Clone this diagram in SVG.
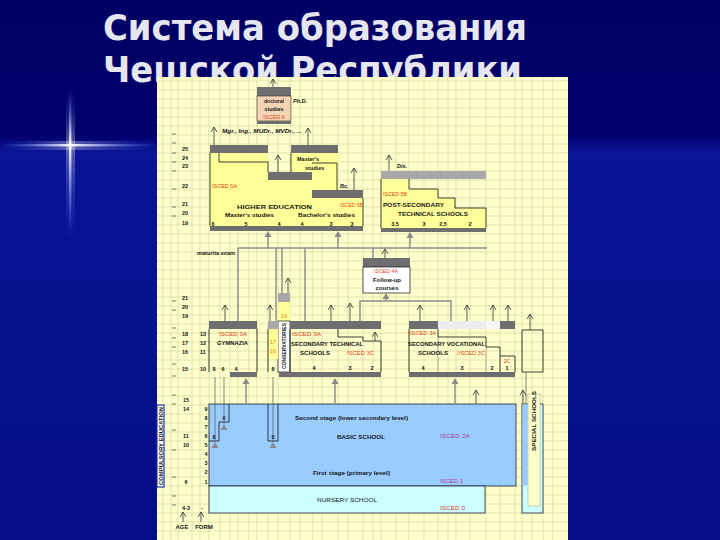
<svg xmlns="http://www.w3.org/2000/svg" width="720" height="540" viewBox="0 0 720 540">
<defs>
<style>
.t{font-family:"Liberation Sans",Arial,sans-serif;font-weight:bold;font-size:5.5px;fill:#151515}
.r{fill:#e0441c;font-weight:normal}
.p{fill:#b03c8c;font-weight:normal}
.it{font-style:italic}
.ttl{font-family:"DejaVu Sans","Liberation Sans",sans-serif;font-weight:bold;font-size:36px;fill:#e6e6f0}
.dk{fill:#6e6e6e}
.lg{fill:#a8a8a8}
.yel{fill:#ffff99}
.ol{fill:none;stroke:#111;stroke-width:0.8}
.ar{stroke:#333;stroke-width:0.8;fill:none;marker-end:url(#chev)}
.gl{stroke:#8a8a8a;stroke-width:1.4;fill:none}
.thin{stroke:#555;stroke-width:0.7;fill:none}
.grid line{stroke:#d6d6a4;stroke-width:0.7}
</style>
<marker id="chev" viewBox="-6 -4 8 8" refX="0" refY="0" markerWidth="8" markerHeight="8" markerUnits="userSpaceOnUse" orient="auto">
<path d="M-5,-3 L0,0 L-5,3" fill="none" stroke="#333" stroke-width="0.8"/>
</marker>
<path id="tri" d="M0,0 L-3.5,6 L3.5,6 Z" fill="#8a8a8a"/>
<linearGradient id="bg" x1="0" y1="0" x2="0" y2="1">
<stop offset="0" stop-color="#000064"/>
<stop offset="0.25" stop-color="#00006a"/>
<stop offset="0.28" stop-color="#0a1494"/>
<stop offset="1" stop-color="#050e86"/>
</linearGradient>
<linearGradient id="sv" x1="0" y1="0" x2="0" y2="1">
<stop offset="0" stop-color="#4060ff" stop-opacity="0"/>
<stop offset="0.38" stop-color="#ffffff"/>
<stop offset="1" stop-color="#4060ff" stop-opacity="0"/>
</linearGradient>
<linearGradient id="sh" x1="0" y1="0" x2="1" y2="0">
<stop offset="0" stop-color="#4060ff" stop-opacity="0"/>
<stop offset="0.44" stop-color="#ffffff"/>
<stop offset="1" stop-color="#4060ff" stop-opacity="0"/>
</linearGradient>
</defs>

<g id="slide">
<rect width="720" height="540" fill="url(#bg)"/>
<rect x="66" y="88" width="9" height="150" fill="url(#sv)" opacity="0.35"/>
<rect x="0" y="141" width="160" height="9" fill="url(#sh)" opacity="0.35"/>
<rect x="69" y="88" width="2.4" height="150" fill="url(#sv)"/>
<rect x="0" y="144" width="160" height="2.4" fill="url(#sh)"/>
<text class="ttl" x="103" y="40" textLength="424" lengthAdjust="spacingAndGlyphs">Система образования</text>
<text class="ttl" x="103" y="82" textLength="419" lengthAdjust="spacingAndGlyphs">Чешской Республики</text>
</g>

<g id="sheet">
<rect x="157" y="77" width="411" height="463" fill="#ffffcc"/>
<g class="grid">
<line x1="157" y1="81" x2="568" y2="81"/><line x1="157" y1="90" x2="568" y2="90"/><line x1="157" y1="99" x2="568" y2="99"/><line x1="157" y1="108" x2="568" y2="108"/><line x1="157" y1="117" x2="568" y2="117"/><line x1="157" y1="126" x2="568" y2="126"/><line x1="157" y1="135" x2="568" y2="135"/><line x1="157" y1="144" x2="568" y2="144"/><line x1="157" y1="153" x2="568" y2="153"/><line x1="157" y1="162" x2="568" y2="162"/><line x1="157" y1="171" x2="568" y2="171"/><line x1="157" y1="180" x2="568" y2="180"/><line x1="157" y1="189" x2="568" y2="189"/><line x1="157" y1="198" x2="568" y2="198"/><line x1="157" y1="207" x2="568" y2="207"/><line x1="157" y1="216" x2="568" y2="216"/><line x1="157" y1="225" x2="568" y2="225"/><line x1="157" y1="234" x2="568" y2="234"/><line x1="157" y1="243" x2="568" y2="243"/><line x1="157" y1="252" x2="568" y2="252"/><line x1="157" y1="261" x2="568" y2="261"/><line x1="157" y1="270" x2="568" y2="270"/><line x1="157" y1="279" x2="568" y2="279"/><line x1="157" y1="288" x2="568" y2="288"/><line x1="157" y1="297" x2="568" y2="297"/><line x1="157" y1="306" x2="568" y2="306"/><line x1="157" y1="315" x2="568" y2="315"/><line x1="157" y1="324" x2="568" y2="324"/><line x1="157" y1="333" x2="568" y2="333"/><line x1="157" y1="342" x2="568" y2="342"/><line x1="157" y1="351" x2="568" y2="351"/><line x1="157" y1="360" x2="568" y2="360"/><line x1="157" y1="369" x2="568" y2="369"/><line x1="157" y1="378" x2="568" y2="378"/><line x1="157" y1="387" x2="568" y2="387"/><line x1="157" y1="396" x2="568" y2="396"/><line x1="157" y1="405" x2="568" y2="405"/><line x1="157" y1="414" x2="568" y2="414"/><line x1="157" y1="423" x2="568" y2="423"/><line x1="157" y1="432" x2="568" y2="432"/><line x1="157" y1="441" x2="568" y2="441"/><line x1="157" y1="450" x2="568" y2="450"/><line x1="157" y1="459" x2="568" y2="459"/><line x1="157" y1="468" x2="568" y2="468"/><line x1="157" y1="477" x2="568" y2="477"/><line x1="157" y1="486" x2="568" y2="486"/><line x1="157" y1="495" x2="568" y2="495"/><line x1="157" y1="504" x2="568" y2="504"/><line x1="157" y1="513" x2="568" y2="513"/><line x1="157" y1="522" x2="568" y2="522"/><line x1="157" y1="531" x2="568" y2="531"/>
<line x1="163" y1="77" x2="163" y2="540"/><line x1="171" y1="77" x2="171" y2="540"/><line x1="178" y1="77" x2="178" y2="540"/><line x1="192" y1="77" x2="192" y2="540"/><line x1="200" y1="77" x2="200" y2="540"/><line x1="209" y1="77" x2="209" y2="540"/><line x1="220" y1="77" x2="220" y2="540"/><line x1="230" y1="77" x2="230" y2="540"/><line x1="238" y1="77" x2="238" y2="540"/><line x1="249" y1="77" x2="249" y2="540"/><line x1="257" y1="77" x2="257" y2="540"/><line x1="268" y1="77" x2="268" y2="540"/><line x1="278" y1="77" x2="278" y2="540"/><line x1="290" y1="77" x2="290" y2="540"/><line x1="300" y1="77" x2="300" y2="540"/><line x1="313" y1="77" x2="313" y2="540"/><line x1="322" y1="77" x2="322" y2="540"/><line x1="338" y1="77" x2="338" y2="540"/><line x1="348" y1="77" x2="348" y2="540"/><line x1="363" y1="77" x2="363" y2="540"/><line x1="373" y1="77" x2="373" y2="540"/><line x1="381" y1="77" x2="381" y2="540"/><line x1="396" y1="77" x2="396" y2="540"/><line x1="409" y1="77" x2="409" y2="540"/><line x1="424" y1="77" x2="424" y2="540"/><line x1="438" y1="77" x2="438" y2="540"/><line x1="448" y1="77" x2="448" y2="540"/><line x1="456" y1="77" x2="456" y2="540"/><line x1="470" y1="77" x2="470" y2="540"/><line x1="486" y1="77" x2="486" y2="540"/><line x1="500" y1="77" x2="500" y2="540"/><line x1="515" y1="77" x2="515" y2="540"/><line x1="522" y1="77" x2="522" y2="540"/><line x1="532" y1="77" x2="532" y2="540"/><line x1="543" y1="77" x2="543" y2="540"/><line x1="553" y1="77" x2="553" y2="540"/>
</g>
</g>

<g id="axis">
<g stroke="#555" stroke-width="0.8">
<line x1="172" y1="134" x2="176" y2="134"/><line x1="172" y1="143" x2="176" y2="143"/><line x1="172" y1="153" x2="176" y2="153"/><line x1="172" y1="162" x2="176" y2="162"/><line x1="172" y1="171" x2="176" y2="171"/><line x1="172" y1="189" x2="176" y2="189"/><line x1="172" y1="207" x2="176" y2="207"/><line x1="172" y1="216" x2="176" y2="216"/>
<line x1="172" y1="301" x2="176" y2="301"/><line x1="172" y1="310" x2="176" y2="310"/><line x1="172" y1="328" x2="176" y2="328"/><line x1="172" y1="338" x2="176" y2="338"/><line x1="172" y1="347" x2="176" y2="347"/><line x1="172" y1="364" x2="176" y2="364"/><line x1="172" y1="376" x2="176" y2="376"/>
<line x1="172" y1="395" x2="176" y2="395"/><line x1="172" y1="404" x2="176" y2="404"/><line x1="172" y1="430" x2="176" y2="430"/><line x1="172" y1="450" x2="176" y2="450"/><line x1="172" y1="477" x2="176" y2="477"/><line x1="172" y1="496" x2="176" y2="496"/><line x1="172" y1="505" x2="176" y2="505"/>
</g>
<g class="t" text-anchor="middle">
<text x="185" y="151">25</text><text x="185" y="160">24</text><text x="185" y="168">23</text><text x="185" y="188">22</text><text x="185" y="206">21</text><text x="185" y="215">20</text><text x="185" y="225">19</text>
<text x="185" y="300">21</text><text x="185" y="309">20</text><text x="185" y="318">19</text><text x="185" y="336">18</text><text x="185" y="345">17</text><text x="185" y="354">16</text><text x="185" y="371">15</text>
<text x="186" y="402">15</text><text x="186" y="411">14</text><text x="186" y="438">11</text><text x="186" y="447">10</text><text x="186" y="484">6</text><text x="186" y="510">4-3</text>
<text x="206" y="411">9</text><text x="206" y="420">8</text><text x="206" y="429">7</text><text x="206" y="438">6</text><text x="206" y="447">5</text><text x="206" y="456">4</text><text x="206" y="465">3</text><text x="206" y="474">2</text><text x="206" y="484">1</text><text x="202" y="510">-</text>
<text x="182" y="529" font-size="6">AGE</text><text x="204" y="529" font-size="6">FORM</text>
</g>
</g>

<g id="doctoral">
<rect class="dk" x="257" y="87" width="34" height="9"/>
<rect x="257" y="96" width="34" height="25" fill="#f4d4b4" stroke="#333" stroke-width="0.6"/>
<rect class="dk" x="257" y="121" width="34" height="3"/>
<g class="t" text-anchor="middle"><text x="274" y="103" textLength="20" lengthAdjust="spacingAndGlyphs">doctoral</text><text x="274" y="111">studies</text><text class="r" x="274" y="119">ISCED 6</text></g>
<text class="t it" x="293" y="103" font-size="6">Ph.D.</text>
<text class="t it" x="222" y="133" font-size="6" textLength="80" lengthAdjust="spacingAndGlyphs">Mgr., Ing., MUDr., MVDr., ...</text>
</g>

<g id="higher-education">
<polygon class="yel" points="210,153 268,153 268,180 312,180 312,198 363,198 363,226 210,226"/>
<polygon class="yel" points="291,153 338,153 338,190 312,190 312,172 291,172"/>
<rect class="dk" x="210" y="145" width="58" height="8"/>
<rect class="dk" x="291" y="145" width="47" height="8"/>
<rect class="dk" x="268" y="172" width="44" height="8"/>
<rect class="dk" x="312" y="190" width="51" height="8"/>
<rect class="dk" x="210" y="226" width="153" height="5"/>
<polyline class="ol" points="219,153 219,162 268,162 268,172"/>
<polyline class="ol" points="291,153 291,172"/>
<polyline class="ol" points="312,163 337,163 337,190"/>
<polyline class="ol" points="210,153 210,226"/>
<polyline class="ol" points="363,198 363,226"/>
<text class="t r" x="212" y="188" font-size="5">ISCED 5A</text>
<text class="t" x="237" y="209" font-size="8" textLength="75" lengthAdjust="spacingAndGlyphs">HIGHER EDUCATION</text>
<text class="t r" x="340" y="207" font-size="5" textLength="23" lengthAdjust="spacingAndGlyphs">ISCED 5B</text>
<text class="t" x="225" y="217" textLength="49" lengthAdjust="spacingAndGlyphs">Master's studies</text>
<text class="t" x="298" y="217" textLength="57" lengthAdjust="spacingAndGlyphs">Bachelor's studies</text>
<g class="t" text-anchor="middle"><text x="213" y="225.5">6</text><text x="246" y="225.5">5</text><text x="279" y="225.5">4</text><text x="302" y="225.5">4</text><text x="331" y="225.5">3</text><text x="352" y="225.5">3</text></g>
<text class="t" x="297" y="161" font-size="5">Master's</text>
<text class="t" x="305" y="170" font-size="5">studies</text>
<text class="t it" x="340" y="188" font-size="6">Bc.</text>
</g>

<g id="post-secondary">
<rect class="lg" x="381" y="171" width="105" height="8"/>
<polygon class="yel" points="381,179 409,179 409,189 438,189 438,198 455,198 455,208 486,208 486,228 381,228"/>
<polyline class="ol" points="381,179 381,228"/>
<polyline class="ol" points="409,179 409,189 438,189 438,198 455,198 455,208 486,208 486,228"/>
<rect class="dk" x="381" y="228" width="105" height="4"/>
<text class="t r" x="383" y="196" font-size="5" textLength="24" lengthAdjust="spacingAndGlyphs">ISCED 5B</text>
<text class="t" x="383" y="207" font-size="7" textLength="61" lengthAdjust="spacingAndGlyphs">POST-SECONDARY</text>
<text class="t" x="398" y="216" font-size="7" textLength="70" lengthAdjust="spacingAndGlyphs">TECHNICAL SCHOOLS</text>
<g class="t" text-anchor="middle"><text x="395" y="226">3,5</text><text x="424" y="226">3</text><text x="443" y="226">2,5</text><text x="470" y="226">2</text></g>
<text class="t it" x="397" y="168" font-size="6">Dis.</text>
</g>

<g id="follow-up">
<rect class="dk" x="363" y="258" width="47" height="9"/>
<rect x="363" y="267" width="47" height="26" fill="#ffffff" stroke="#111" stroke-width="0.7"/>
<g class="t" text-anchor="middle"><text class="r" x="386" y="273" textLength="24" lengthAdjust="spacingAndGlyphs">ISCED 4A</text><text x="387" y="282" font-size="6" textLength="28" lengthAdjust="spacingAndGlyphs">Follow-up</text><text x="387" y="290" font-size="6">courses</text></g>
</g>

<g id="gymnasium">
<rect class="dk" x="209" y="321" width="48" height="8"/>
<polyline class="ol" points="209,329 209,372"/>
<polyline class="ol" points="257,329 257,372"/>
<rect class="dk" x="230" y="372" width="27" height="5"/>
<text class="t r" x="219" y="336" textLength="28" lengthAdjust="spacingAndGlyphs">ISCED 3A</text>
<text class="t" x="217" y="345" font-size="6" textLength="31" lengthAdjust="spacingAndGlyphs">GYMNAZIA</text>
<g class="t" text-anchor="middle"><text x="203" y="336">13</text><text x="203" y="345">12</text><text x="203" y="354">11</text><text x="203" y="371">10</text><text x="214" y="371">8</text><text x="223" y="371">6</text><text x="236" y="371">4</text></g>
</g>

<g id="conservatories">
<rect class="lg" x="278" y="293" width="12" height="9"/>
<rect class="yel" x="278" y="302" width="12" height="19"/>
<rect x="278" y="321" width="12" height="51" fill="#ffffff" stroke="#111" stroke-width="0.7"/>
<text class="t" x="284" y="318" text-anchor="middle" font-size="5" fill="#e0801c" style="fill:#e0801c;font-weight:normal">19</text>
<text class="t" transform="translate(286,346) rotate(-90)" text-anchor="middle" font-size="5" textLength="46" lengthAdjust="spacingAndGlyphs">CONSERVATORIES</text>
<rect class="lg" x="268" y="321" width="10" height="8"/>
<rect class="yel" x="268" y="329" width="10" height="30"/>
<polyline class="ol" points="268,329 268,372"/>
<g class="t" text-anchor="middle" font-size="5"><text x="273" y="344" style="fill:#e0801c;font-weight:normal">17</text><text x="273" y="353" style="fill:#e0801c;font-weight:normal">16</text><text x="273" y="371">8</text></g>
</g>

<g id="secondary-technical">
<rect class="dk" x="290" y="321" width="91" height="8"/>
<polyline class="ol" points="290,329 290,372"/>
<polyline class="ol" points="338,329 338,337 363,337 363,341 381,341 381,372"/>
<rect class="dk" x="279" y="372" width="102" height="5"/>
<text class="t r" x="292" y="336" textLength="29" lengthAdjust="spacingAndGlyphs">ISCED 3A</text>
<text class="t" x="291" y="346" font-size="6.5" textLength="72" lengthAdjust="spacingAndGlyphs">SECONDARY TECHNICAL</text>
<text class="t" x="300" y="355" font-size="6.5" textLength="30" lengthAdjust="spacingAndGlyphs">SCHOOLS</text>
<text class="t r" x="347" y="355" textLength="27" lengthAdjust="spacingAndGlyphs">ISCED 3C</text>
<g class="t" text-anchor="middle"><text x="314" y="370">4</text><text x="350" y="370">3</text><text x="372" y="370">2</text></g>
</g>

<g id="secondary-vocational">
<rect class="dk" x="409" y="321" width="29" height="8"/>
<rect x="438" y="321" width="48" height="8" fill="#ececec"/>
<rect x="486" y="321" width="14" height="8" fill="#f6f6f6"/>
<rect class="dk" x="500" y="321" width="15" height="8"/>
<polyline class="ol" points="409,329 409,372"/>
<polyline class="ol" points="438,329 438,337 486,337 486,347 500,347 500,356 515,356 515,372"/>
<polyline class="ol" points="500,356 500,372"/>
<line x1="438" y1="337" x2="438" y2="372" stroke="#777" stroke-width="0.5"/>
<line x1="486" y1="347" x2="486" y2="372" stroke="#777" stroke-width="0.5"/>
<rect class="dk" x="409" y="372" width="106" height="5"/>
<text class="t r" x="410" y="335" textLength="26" lengthAdjust="spacingAndGlyphs">ISCED 3A</text>
<text class="t" x="408" y="346" font-size="6.5" textLength="77" lengthAdjust="spacingAndGlyphs">SECONDARY VOCATIONAL</text>
<text class="t" x="418" y="355" font-size="6.5" textLength="30" lengthAdjust="spacingAndGlyphs">SCHOOLS</text>
<text class="t r" x="457" y="355" textLength="28" lengthAdjust="spacingAndGlyphs">(ISCED 3C</text>
<g class="t" text-anchor="middle"><text x="423" y="370">4</text><text x="462" y="370">3</text><text x="492" y="370">2</text><text x="507" y="370">1</text><text class="r" x="507" y="363" font-size="5">2C</text></g>
</g>

<g id="special-secondary">
<polyline class="ol" points="522,330 543,330 543,372 522,372 522,330"/>
</g>

<g id="basic-school">
<rect x="209" y="404" width="307" height="82" fill="#99ccff" stroke="#223" stroke-width="0.8"/>
<polyline class="ol" points="229,404 229,422 219,422 219,441 209,441"/>
<polyline class="ol" points="268,404 268,441 278,441 278,404"/>
<g class="t" text-anchor="middle" font-size="5"><text x="224" y="420">6</text><text x="214" y="439">8</text><text x="273" y="439">8</text></g>
<text class="t" x="295" y="420" textLength="113" lengthAdjust="spacingAndGlyphs">Second stage (lower secondary level)</text>
<text class="t" x="337" y="439" font-size="6" textLength="48" lengthAdjust="spacingAndGlyphs">BASIC SCHOOL</text>
<text class="t p" x="440" y="438" textLength="30" lengthAdjust="spacingAndGlyphs">ISCED 2A</text>
<text class="t" x="313" y="475" textLength="77" lengthAdjust="spacingAndGlyphs">First stage (primary level)</text>
<text class="t p" x="440" y="483" textLength="23" lengthAdjust="spacingAndGlyphs">ISCED 1</text>
</g>

<g id="nursery-school">
<rect x="209" y="486" width="276" height="27" fill="#ccffff" stroke="#223" stroke-width="0.8"/>
<text class="t" x="317" y="502" font-size="6" font-weight="normal" style="font-weight:normal" textLength="60" lengthAdjust="spacingAndGlyphs">NURSERY SCHOOL</text>
<text class="t r" x="440" y="510" textLength="25" lengthAdjust="spacingAndGlyphs">ISCED 0</text>
</g>

<g id="special-schools">
<rect x="522" y="404" width="21" height="109" fill="#ccffff" stroke="#223" stroke-width="0.8"/>
<rect x="522.5" y="404.5" width="5" height="81" fill="#99ccff"/>
<rect x="528" y="394" width="12" height="112" fill="#ffffcc" stroke="#999" stroke-width="0.5"/>
<text class="t" transform="translate(536,421) rotate(-90)" text-anchor="middle" font-size="5.5" textLength="60" lengthAdjust="spacingAndGlyphs">SPECIAL SCHOOLS</text>
</g>

<g id="compulsory-education">
<rect x="157" y="405" width="7" height="82" fill="#ffffff" stroke="#1a3aa0" stroke-width="1.2"/>
<text class="t" transform="translate(162.5,446) rotate(-90)" text-anchor="middle" font-size="5" textLength="78" lengthAdjust="spacingAndGlyphs">COMPULSORY EDUCATION</text>
</g>

<g id="connectors">
<line class="ar" x1="273" y1="87" x2="273" y2="79"/>
<line class="ar" x1="214" y1="145" x2="214" y2="127"/>
<line class="ar" x1="308" y1="145" x2="308" y2="128"/>
<line class="ar" x1="278" y1="172" x2="278" y2="155"/>
<line class="ar" x1="354" y1="190" x2="354" y2="168"/>
<line class="ar" x1="389" y1="171" x2="389" y2="155"/>
<text class="t" x="197" y="255" font-size="5" textLength="38" lengthAdjust="spacingAndGlyphs">maturita exam</text>
<polyline class="gl" points="238,248 487,248"/>
<line class="gl" x1="268" y1="248" x2="268" y2="237"/><use href="#tri" x="268" y="231"/>
<line class="gl" x1="338" y1="248" x2="338" y2="237"/><use href="#tri" x="338" y="231"/>
<line class="gl" x1="410" y1="248" x2="410" y2="238"/><use href="#tri" x="410" y="232"/>
<line class="gl" x1="238" y1="248" x2="238" y2="321"/>
<line class="gl" x1="276" y1="248" x2="276" y2="321"/>
<line class="gl" x1="282" y1="248" x2="282" y2="293"/>
<line class="gl" x1="305" y1="248" x2="305" y2="321"/>
<line class="gl" x1="373" y1="248" x2="373" y2="258"/>
<line class="ar" x1="385" y1="258" x2="385" y2="249"/>
<use href="#tri" x="386" y="293"/>
<polyline class="gl" points="360,321 360,301 451,301 451,321"/>
<line class="gl" x1="386" y1="299" x2="386" y2="301"/>
<line class="ar" x1="225" y1="321" x2="225" y2="305"/>
<line class="ar" x1="270" y1="321" x2="270" y2="305"/>
<line class="ar" x1="288" y1="293" x2="288" y2="278"/>
<line class="ar" x1="331" y1="321" x2="331" y2="305"/>
<line class="ar" x1="350" y1="321" x2="350" y2="303"/>
<line class="ar" x1="375" y1="341" x2="375" y2="332"/>
<line class="ar" x1="420" y1="321" x2="420" y2="305"/>
<line class="ar" x1="467" y1="321" x2="467" y2="305"/>
<line class="ar" x1="493" y1="321" x2="493" y2="305"/>
<line class="ar" x1="508" y1="321" x2="508" y2="305"/>
<line class="ar" x1="530" y1="330" x2="530" y2="314"/>
<use href="#tri" x="246" y="378"/><line class="gl" x1="246" y1="384" x2="246" y2="404"/>
<use href="#tri" x="335" y="378"/><line class="gl" x1="335" y1="384" x2="335" y2="404"/>
<use href="#tri" x="455" y="378"/><line class="gl" x1="455" y1="384" x2="455" y2="404"/>
<line class="thin" x1="224" y1="377" x2="224" y2="424"/><use href="#tri" x="224" y="424"/>
<line class="thin" x1="215" y1="377" x2="215" y2="442"/><use href="#tri" x="215" y="442"/>
<line class="thin" x1="273" y1="377" x2="273" y2="442"/><use href="#tri" x="273" y="442"/>
<line class="thin" x1="526" y1="372" x2="526" y2="404"/>
<line class="ar" x1="476" y1="404" x2="476" y2="390"/>
<line class="ar" x1="523" y1="404" x2="523" y2="390"/>
<line class="ar" x1="183" y1="522" x2="183" y2="512"/>
<line class="ar" x1="201" y1="522" x2="201" y2="512"/>
</g>
</svg>
